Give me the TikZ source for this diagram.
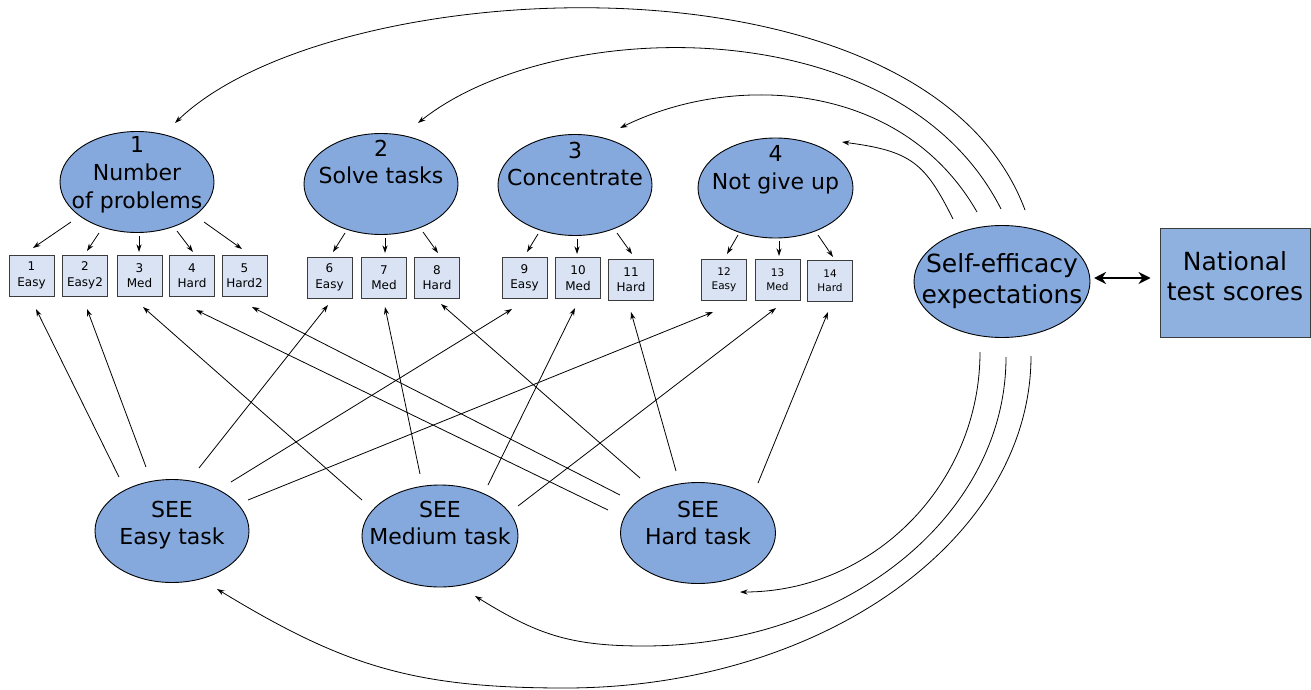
\documentclass[tikz,border=0pt]{standalone}
\usepackage{fontspec}
\setmainfont{DejaVu Sans}
\usetikzlibrary{shapes.geometric,arrows.meta,calc}
\definecolor{ellfill}{HTML}{85A9DD}
\definecolor{itemfill}{HTML}{D9E3F4}
\definecolor{itemline}{HTML}{3C3C3C}
\definecolor{scorefill}{HTML}{8FB1E0}
% centred multi-line label of zero size, first baseline lifted by #1
\newcommand{\lbl}[2]{\raisebox{#1}[0pt][0pt]{\makebox[0pt]{\begin{tabular}[t]{@{}c@{}}#2\end{tabular}}}}
\begin{document}
\begin{tikzpicture}[x=1pt,y=-1pt,
  factor/.style={ellipse, draw=black, line width=0.9pt, fill=ellfill, inner sep=0pt, outer sep=0pt,
    minimum width=154pt, minimum height=101pt, font=\fontsize{22}{27.5}\selectfont},
  indicator/.style={rectangle, draw=itemline, line width=1pt, fill=itemfill, inner sep=0pt,
    minimum width=45pt, minimum height=41pt, align=center, font=\fontsize{12}{15.5}\selectfont},
  smallind/.style={indicator, font=\fontsize{10.5}{14}\selectfont},
  arr/.style={line width=0.8pt, -{Stealth[length=7.5pt,width=5pt]}},
  twoway/.style={line width=2.5pt, {Stealth[length=12pt,width=12pt]}-{Stealth[length=12pt,width=12pt]}}
]
\useasboundingbox (0,0) rectangle (1311,690);

% latent factors
\node[factor] (e1) at (137,182) {\lbl{29pt}{1\\Number\\of problems}};
\node[factor] (e2) at (381,184) {\lbl{28pt}{2\\Solve tasks}};
\node[factor] (e3) at (575,185) {\lbl{27pt}{3\\Concentrate}};
\node[factor, minimum width=155pt, minimum height=100pt] (e4) at (775.5,188) {\lbl{26.5pt}{4\\Not give up}};

\node[factor, minimum width=176pt, minimum height=112pt, font=\fontsize{25}{31}\selectfont] (se) at (1002,281.5)
  {\lbl{9pt}{Self-efficacy\\expectations}};
\node[rectangle, draw=itemline, line width=1pt, fill=scorefill, inner sep=0pt, minimum width=150pt,
  minimum height=109pt, font=\fontsize{25}{30}\selectfont] (nat) at (1235,282.5) {\lbl{12.5pt}{National\\test scores}};

\node[factor, minimum height=103pt, font=\fontsize{22}{27}\selectfont] (seeE) at (172,531) {\lbl{14pt}{SEE\\Easy task}};
\node[factor, minimum width=156pt, minimum height=102pt, font=\fontsize{22}{27}\selectfont] (seeM) at (440,536) {\lbl{19pt}{SEE\\Medium task}};
\node[factor, minimum width=155pt, font=\fontsize{22}{27}\selectfont] (seeH) at (698,533) {\lbl{16pt}{SEE\\Hard task}};

% indicator items
\node[indicator] (b1) at (31.5,275.5) {1\\Easy};
\node[indicator] (b2) at (85,275.5) {2\\Easy2};
\node[indicator] (b3) at (139.5,275.5) {3\\Med};
\node[indicator] (b4) at (192,275.5) {4\\Hard};
\node[indicator] (b5) at (244.5,275.5) {5\\Hard2};
\node[indicator] (b6) at (329.5,277.5) {6\\Easy};
\node[indicator] (b7) at (384,277.5) {7\\Med};
\node[indicator] (b8) at (437,277.5) {8\\Hard};
\node[indicator] (b9) at (524.5,278) {9\\Easy};
\node[indicator] (b10) at (578,278) {10\\Med};
\node[indicator] (b11) at (631,279.5) {11\\Hard};
\node[smallind] (b12) at (724,280) {12\\Easy};
\node[smallind] (b13) at (777.5,280) {13\\Med};
\node[smallind] (b14) at (830,281) {14\\Hard};

% factor loadings
\draw[arr] ($(e1)+(-66,40)$) -- ($(b1)+(1.5,-27.5)$);
\draw[arr] ($(e1)+(-38,51)$) -- ($(b2)+(2,-24.5)$);
\draw[arr] ($(e1)+(2,54)$) -- ($(b3)+(-0.5,-23.5)$);
\draw[arr] ($(e1)+(40,49)$) -- ($(b4)+(1,-23.5)$);
\draw[arr] ($(e1)+(67,40)$) -- ($(b5)+(-2.5,-26.5)$);
\draw[arr] ($(e2)+(-36,49)$) -- ($(b6)+(3.5,-25.5)$);
\draw[arr] ($(e2)+(4,54)$) -- ($(b7)+(1,-24.5)$);
\draw[arr] ($(e2)+(42,48)$) -- ($(b8)+(1,-24.5)$);
\draw[arr] ($(e3)+(-37,49)$) -- ($(b9)+(2.5,-26)$);
\draw[arr] ($(e3)+(2,54)$) -- ($(b10)+(-1,-24)$);
\draw[arr] ($(e3)+(42,48)$) -- ($(b11)+(1,-25.5)$);
\draw[arr] ($(e4)+(-37.5,47)$) -- ($(b12)+(3,-26)$);
\draw[arr] ($(e4)+(3.5,53)$) -- ($(b13)+(1.5,-24)$);
\draw[arr] ($(e4)+(42.5,47)$) -- ($(b14)+(3,-24)$);

% task-specific self-efficacy to items
\draw[arr] ($(seeE)+(-53,-54)$) -- ($(b1)+(4.5,33.5)$);
\draw[arr] ($(seeE)+(-26,-64)$) -- ($(b2)+(2,33.5)$);
\draw[arr] ($(seeE)+(27,-63)$) -- ($(b6)+(-1.5,27.5)$);
\draw[arr] ($(seeE)+(59,-49)$) -- ($(b9)+(-12.5,31)$);
\draw[arr] ($(seeE)+(76,-31)$) -- ($(b12)+(-11,32)$);
\draw[arr] ($(seeM)+(-78,-36)$) -- ($(b3)+(3.5,31.5)$);
\draw[arr] ($(seeM)+(-20,-62)$) -- ($(b7)+(1,29.5)$);
\draw[arr] ($(seeM)+(48,-51)$) -- ($(b10)+(-3,30)$);
\draw[arr] ($(seeM)+(78,-30)$) -- ($(b13)+(-1.5,28)$);
\draw[arr] ($(seeH)+(-90,-23)$) -- ($(b4)+(4,34.5)$);
\draw[arr] ($(seeH)+(-78,-38)$) -- ($(b5)+(7.5,31.5)$);
\draw[arr] ($(seeH)+(-58,-55)$) -- ($(b8)+(4,26.5)$);
\draw[arr] ($(seeH)+(-22,-62)$) -- ($(b11)+(0,32.5)$);
\draw[arr] ($(seeH)+(60,-50)$) -- ($(b14)+(-2,31)$);

% general self-efficacy to the factors above
\draw[arr] ($(se)+(23,-71.5)$) .. controls +(-100,-268) and +(158,-152) .. ($(e1)+(38,-59)$);
\draw[arr] ($(se)+(-1,-72.5)$) .. controls +(-102,-202) and +(135,-107.5) .. ($(e2)+(37,-61)$);
\draw[arr] ($(se)+(-25,-69.5)$) .. controls +(-75,-131) and +(114,-56) .. ($(e3)+(45,-57)$);
\draw[arr] ($(se)+(-49,-62.5)$) .. controls +(-28,-56) and +(69.5,9) .. ($(e4)+(66.5,-46)$);

% general self-efficacy to the task-specific ones below
\draw[arr] ($(se)+(-22,70.5)$) .. controls +(0,132.6) and +(132.6,0) .. ($(seeH)+(42,59)$);
\draw[arr] ($(se)+(4,75.5)$) .. controls +(0,160) and +(200,0) .. (644,646)
  .. controls +(-75,0) and +(61.5,38) .. ($(seeM)+(35,60)$);
\draw[arr] ($(se)+(29,74.5)$) .. controls +(0,183) and +(257,0) .. (565,688)
  .. controls +(-150,0) and +(128,78) .. ($(seeE)+(45,58)$);

% correlation with test scores
\draw[twoway] ($(se.east)+(4,-3.5)$) -- ($(nat.west)+(-9,-4.5)$);
\end{tikzpicture}
\end{document}
